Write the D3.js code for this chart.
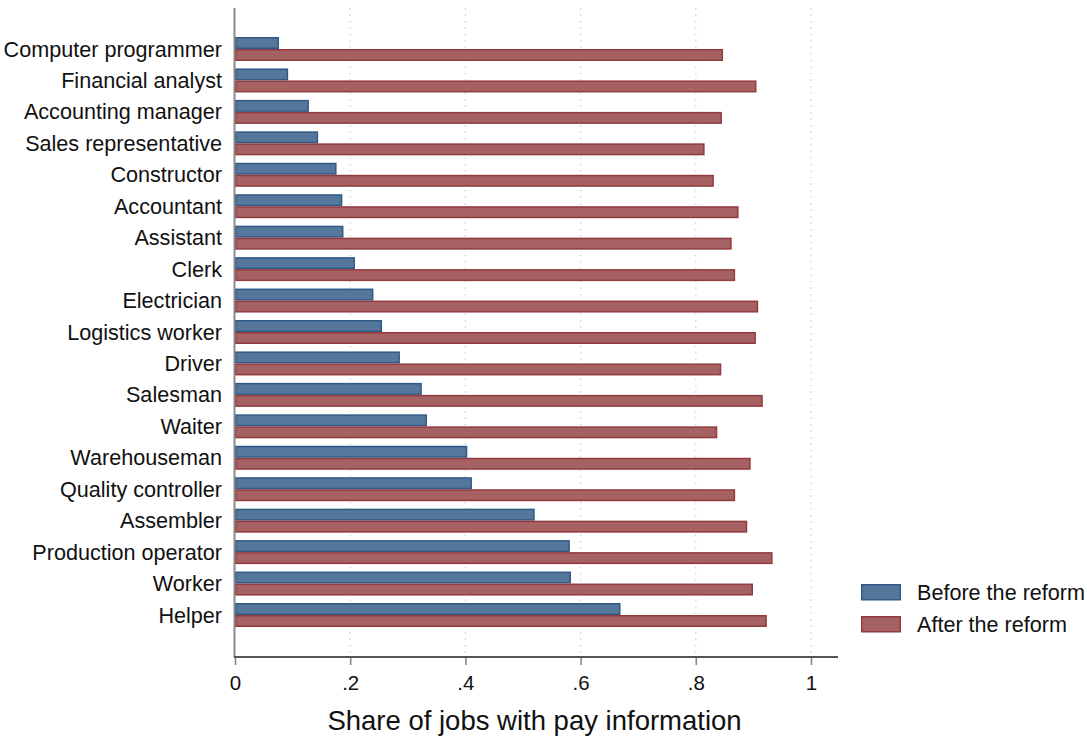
<!DOCTYPE html>
<html>
<head>
<meta charset="utf-8">
<script src="https://cdn.jsdelivr.net/npm/d3@7"></script>
<style>
  body { margin: 0; background: #fff; }
  svg { display: block; font-family: "Liberation Sans", Arial, Helvetica, sans-serif; }
</style>
</head>
<body>
<svg id="chart" width="1087" height="736"></svg>
<script>
const categories = [
  "Computer programmer", "Financial analyst", "Accounting manager", "Sales representative",
  "Constructor", "Accountant", "Assistant", "Clerk", "Electrician", "Logistics worker",
  "Driver", "Salesman", "Waiter", "Warehouseman", "Quality controller", "Assembler",
  "Production operator", "Worker", "Helper"
];
const beforeValues = [0.075, 0.091, 0.127, 0.143, 0.175, 0.185, 0.187, 0.207, 0.239, 0.254,
  0.285, 0.323, 0.332, 0.402, 0.410, 0.519, 0.580, 0.582, 0.668];
const afterValues = [0.846, 0.904, 0.844, 0.814, 0.830, 0.873, 0.861, 0.867, 0.907, 0.903,
  0.843, 0.915, 0.836, 0.894, 0.867, 0.888, 0.932, 0.898, 0.922];
const seriesNames = ["Before the reform", "After the reform"];
const xTicks = [0, 0.2, 0.4, 0.6, 0.8, 1];
const xTickLabels = ["0", ".2", ".4", ".6", ".8", "1"];
const xTitle = "Share of jobs with pay information";

const fills = ["#56779c", "#a66163"];
const strokes = ["#2f5a86", "#913b40"];

const svg = d3.select("#chart");
const x = d3.scaleLinear().domain([0, 1]).range([235, 811]);
const y = d3.scaleBand().domain(categories).range([33.3, 630.7]).paddingInner(0.237).paddingOuter(0.118);
const ySub = d3.scaleBand().domain(seriesNames).range([0, y.bandwidth()]);

const plotTop = 8, plotBottom = 657;

// gridlines
svg.append("g").selectAll("line").data(xTicks.slice(1)).join("line")
  .attr("x1", d => x(d)).attr("x2", d => x(d))
  .attr("y1", plotTop).attr("y2", plotBottom)
  .attr("stroke", "#c4c4c4").attr("stroke-width", 1.2)
  .attr("stroke-dasharray", "1.3,5.2");

// bars
const data = [];
categories.forEach((c, i) => {
  data.push({cat: c, s: 0, v: beforeValues[i]});
  data.push({cat: c, s: 1, v: afterValues[i]});
});
svg.append("g").selectAll("rect").data(data).join("rect")
  .attr("x", x(0) + 0.75)
  .attr("y", d => y(d.cat) + ySub(seriesNames[d.s]) + 0.75)
  .attr("width", d => x(d.v) - x(0) - 0.75)
  .attr("height", ySub.bandwidth() - 1.5)
  .attr("fill", d => fills[d.s])
  .attr("stroke", d => strokes[d.s])
  .attr("stroke-width", 1.5);

// y axis line
svg.append("line").attr("x1", 234.5).attr("x2", 234.5).attr("y1", plotTop).attr("y2", plotBottom + 1)
  .attr("stroke", "#8a8a8a").attr("stroke-width", 2);

// category labels
svg.append("g").selectAll("text").data(categories).join("text")
  .attr("x", 222)
  .attr("y", d => y(d) + y.bandwidth() / 2)
  .attr("dy", "0.35em")
  .attr("text-anchor", "end")
  .attr("font-size", 21.6)
  .attr("fill", "#111")
  .text(d => d);

// x axis
const xAxis = d3.axisBottom(x).tickValues(xTicks).tickFormat((d, i) => xTickLabels[i])
  .tickSize(8).tickPadding(10);
const gx = svg.append("g").attr("transform", `translate(0,${plotBottom})`).call(xAxis);
gx.select(".domain").remove();
gx.selectAll(".tick line").attr("stroke", "#888").attr("stroke-width", 1.6);
gx.selectAll(".tick text").attr("font-size", 20.5).attr("fill", "#111")
  .attr("font-family", "'Liberation Sans', Arial, sans-serif");
svg.append("line").attr("x1", 234).attr("x2", 838).attr("y1", plotBottom).attr("y2", plotBottom)
  .attr("stroke", "#555").attr("stroke-width", 1.8);

// x title
svg.append("text").attr("x", x(0.52)).attr("y", 730)
  .attr("text-anchor", "middle").attr("font-size", 27.5).attr("fill", "#111")
  .text(xTitle);

// legend
const leg = svg.append("g").selectAll("g").data(seriesNames).join("g")
  .attr("transform", (d, i) => `translate(861,${584 + i * 32})`);
leg.append("rect").attr("x", 0.75).attr("y", 0.75).attr("width", 38.5).attr("height", 15)
  .attr("fill", (d, i) => fills[i]).attr("stroke", (d, i) => strokes[i]).attr("stroke-width", 1.5);
leg.append("text").attr("x", 56).attr("y", 8.5).attr("dy", "0.35em")
  .attr("font-size", 21.6).attr("fill", "#111").text(d => d);
</script>
</body>
</html>
